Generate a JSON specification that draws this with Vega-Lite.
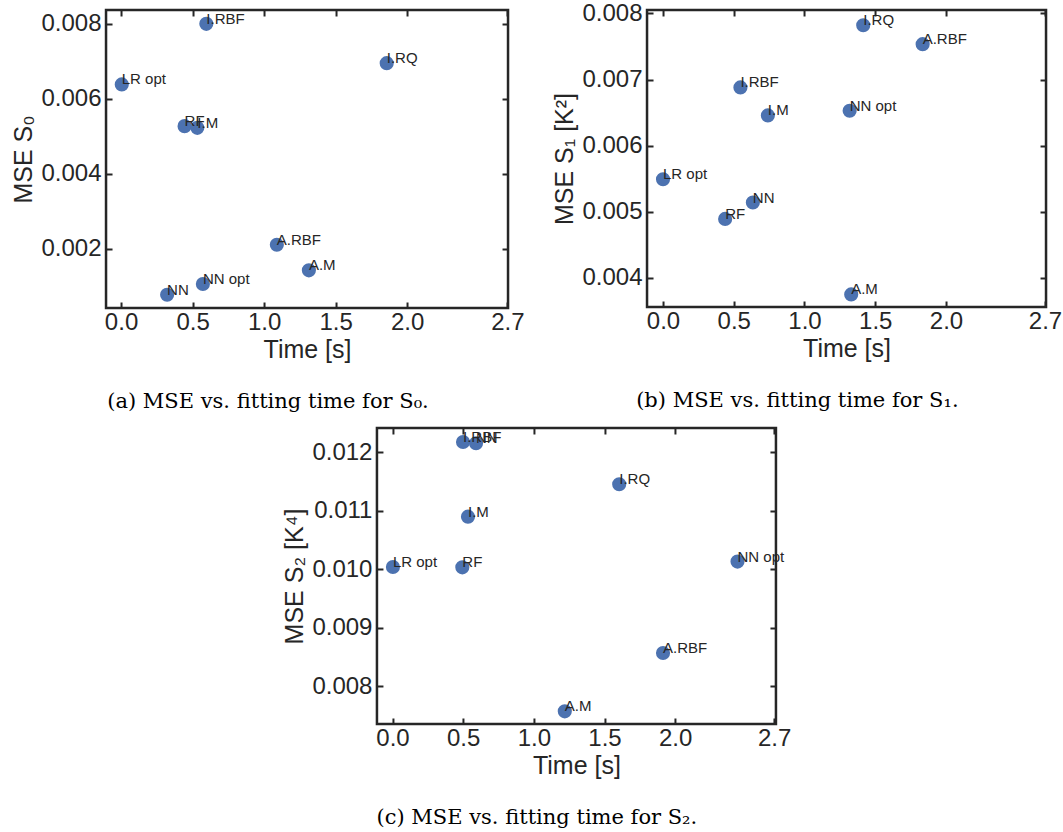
{
  "$schema": "https://vega.github.io/schema/vega-lite/v6.json",
  "padding": {"left": 10, "top": 0, "right": 0, "bottom": 0},
  "center": true,
  "spacing": 12,
  "datasets": {
    "a": [
      {"model": "LR opt", "time": 0.005, "mse": 0.006384},
      {"model": "I.RBF", "time": 0.596, "mse": 0.00800},
      {"model": "I.RQ", "time": 1.857, "mse": 0.006952},
      {"model": "RF", "time": 0.444, "mse": 0.005272},
      {"model": "I.M", "time": 0.533, "mse": 0.005227},
      {"model": "A.RBF", "time": 1.089, "mse": 0.002107},
      {"model": "A.M", "time": 1.313, "mse": 0.001424},
      {"model": "NN opt", "time": 0.572, "mse": 0.001059},
      {"model": "NN", "time": 0.322, "mse": 0.000773}
    ],
    "b": [
      {"model": "I.RQ", "time": 1.415, "mse": 0.00782},
      {"model": "A.RBF", "time": 1.835, "mse": 0.007534},
      {"model": "I.RBF", "time": 0.547, "mse": 0.00688},
      {"model": "I.M", "time": 0.741, "mse": 0.006457},
      {"model": "NN opt", "time": 1.319, "mse": 0.006528},
      {"model": "LR opt", "time": 0.0, "mse": 0.005491},
      {"model": "NN", "time": 0.635, "mse": 0.00514},
      {"model": "RF", "time": 0.439, "mse": 0.004892},
      {"model": "A.M", "time": 1.330, "mse": 0.00375}
    ],
    "c": [
      {"model": "I.RBF", "time": 0.499, "mse": 0.012176},
      {"model": "NN", "time": 0.591, "mse": 0.012154},
      {"model": "I.RQ", "time": 1.604, "mse": 0.011453},
      {"model": "I.M", "time": 0.534, "mse": 0.0109},
      {"model": "LR opt", "time": 0.003, "mse": 0.010039},
      {"model": "RF", "time": 0.494, "mse": 0.010034},
      {"model": "NN opt", "time": 2.441, "mse": 0.010132},
      {"model": "A.RBF", "time": 1.914, "mse": 0.008569},
      {"model": "A.M", "time": 1.219, "mse": 0.007573}
    ]
  },
  "vconcat": [
    {
      "bounds": "flush",
      "spacing": 139,
      "hconcat": [
        {
          "width": 402, "height": 298,
          "data": {"name": "a"},
          "title": {"text": "(a) MSE vs. fitting time for S₀."},
          "layer": [
            {
              "mark": {"type": "circle", "size": 200, "color": "#4C72B0", "opacity": 1},
              "encoding": {
                "x": {"field": "time", "type": "quantitative", "scale": {"domain": [-0.105, 2.705], "nice": false, "zero": false},
                      "axis": {"orient": "bottom", "values": [0, 0.5, 1, 1.5, 2, 2.7], "format": ".1f", "title": "Time [s]", "labelPadding": 8.5, "titlePadding": 3}},
                "y": {"field": "mse", "type": "quantitative", "scale": {"domain": [0.00042, 0.00837], "nice": false, "zero": false},
                      "axis": {"orient": "left", "values": [0.002, 0.004, 0.006, 0.008], "format": ".3f", "title": "MSE S₀", "labelPadding": 11, "titlePadding": 4}}
              }
            },
            {
              "mark": {"type": "text", "align": "left", "baseline": "alphabetic", "fontSize": 15, "font": "Liberation Sans", "color": "#262626"},
              "encoding": {
                "x": {"field": "time", "type": "quantitative", "axis": {"orient": "top", "values": [0, 0.5, 1, 1.5, 2, 2.7], "labels": false, "title": null}},
                "y": {"field": "mse", "type": "quantitative", "axis": {"orient": "right", "values": [0.002, 0.004, 0.006, 0.008], "labels": false, "title": null}},
                "text": {"field": "model"}
              }
            }
          ],
          "resolve": {"axis": {"x": "independent", "y": "independent"}}
        },
        {
          "width": 399, "height": 297,
          "data": {"name": "b"},
          "title": {"text": "(b) MSE vs. fitting time for S₁.", "dx": -10},
          "layer": [
            {
              "mark": {"type": "circle", "size": 200, "color": "#4C72B0", "opacity": 1},
              "encoding": {
                "x": {"field": "time", "type": "quantitative", "scale": {"domain": [-0.113, 2.707], "nice": false, "zero": false},
                      "axis": {"orient": "bottom", "values": [0, 0.5, 1, 1.5, 2, 2.7], "format": ".1f", "title": "Time [s]", "labelPadding": 8.5, "titlePadding": 3}},
                "y": {"field": "mse", "type": "quantitative", "scale": {"domain": [0.00356, 0.008051], "nice": false, "zero": false},
                      "axis": {"orient": "left", "values": [0.004, 0.005, 0.006, 0.007, 0.008], "format": ".3f", "title": "MSE S₁ [K²]", "labelPadding": 11, "titlePadding": 4}}
              }
            },
            {
              "mark": {"type": "text", "align": "left", "baseline": "alphabetic", "fontSize": 15, "font": "Liberation Sans", "color": "#262626"},
              "encoding": {
                "x": {"field": "time", "type": "quantitative", "axis": {"orient": "top", "values": [0, 0.5, 1, 1.5, 2, 2.7], "labels": false, "title": null}},
                "y": {"field": "mse", "type": "quantitative", "axis": {"orient": "right", "values": [0.004, 0.005, 0.006, 0.007, 0.008], "labels": false, "title": null}},
                "text": {"field": "model"}
              }
            }
          ],
          "resolve": {"axis": {"x": "independent", "y": "independent"}}
        }
      ]
    },
    {
      "width": 399, "height": 296,
      "data": {"name": "c"},
      "title": {"text": "(c) MSE vs. fitting time for S₂."},
      "layer": [
        {
          "mark": {"type": "circle", "size": 200, "color": "#4C72B0", "opacity": 1},
          "encoding": {
            "x": {"field": "time", "type": "quantitative", "scale": {"domain": [-0.11, 2.713], "nice": false, "zero": false},
                  "axis": {"orient": "bottom", "values": [0, 0.5, 1, 1.5, 2, 2.7], "format": ".1f", "title": "Time [s]", "labelPadding": 8.5, "titlePadding": 3}},
            "y": {"field": "mse", "type": "quantitative", "scale": {"domain": [0.007356, 0.012415], "nice": false, "zero": false},
                  "axis": {"orient": "left", "values": [0.008, 0.009, 0.010, 0.011, 0.012], "format": ".3f", "title": "MSE S₂ [K⁴]", "labelPadding": 11, "titlePadding": 4}}
          }
        },
        {
          "mark": {"type": "text", "align": "left", "baseline": "alphabetic", "fontSize": 15, "font": "Liberation Sans", "color": "#262626"},
          "encoding": {
            "x": {"field": "time", "type": "quantitative", "axis": {"orient": "top", "values": [0, 0.5, 1, 1.5, 2, 2.7], "labels": false, "title": null}},
            "y": {"field": "mse", "type": "quantitative", "axis": {"orient": "right", "values": [0.008, 0.009, 0.010, 0.011, 0.012], "labels": false, "title": null}},
            "text": {"field": "model"}
          }
        }
      ],
      "resolve": {"axis": {"x": "independent", "y": "independent"}}
    }
  ],
  "config": {
    "background": "white",
    "view": {"stroke": "#262626", "strokeWidth": 2.5},
    "axis": {
      "domain": false, "grid": false,
      "ticks": true, "tickColor": "#262626", "tickWidth": 2, "tickSize": -6,
      "labelFont": "Liberation Sans", "labelFontSize": 24, "labelColor": "#262626",
      "labelFlush": false, "labelOverlap": false,
      "titleFont": "Liberation Sans", "titleFontSize": 25, "titleFontWeight": "normal", "titleColor": "#262626"
    },
    "title": {
      "font": "DejaVu Serif", "fontSize": 21, "fontWeight": "normal", "color": "#000000",
      "orient": "bottom", "anchor": "middle", "frame": "bounds", "offset": 28
    }
  }
}
